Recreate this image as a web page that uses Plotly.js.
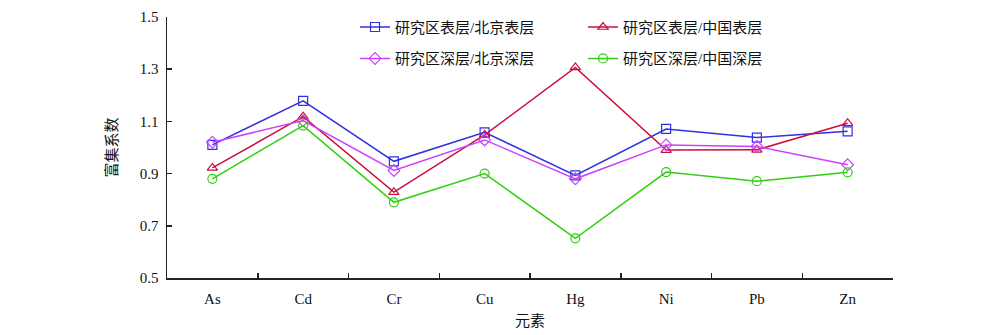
<!DOCTYPE html>
<html>
<head>
<meta charset="utf-8">
<script src="https://cdn.plot.ly/plotly-3.0.1.min.js"></script>
<style>html,body{margin:0;padding:0;background:#fff;}#chart{width:1000px;height:335px;}</style>
</head>
<body>
<div id="chart"></div>
<script>
const elements = ["As","Cd","Cr","Cu","Hg","Ni","Pb","Zn"];
const surfBeijing = [1.010,1.179,0.947,1.058,0.893,1.071,1.038,1.062];
const surfChina   = [0.922,1.118,0.829,1.048,1.307,0.990,0.991,1.093];
const deepBeijing = [1.020,1.103,0.912,1.029,0.880,1.010,1.004,0.934];
const deepChina   = [0.880,1.084,0.790,0.900,0.652,0.906,0.871,0.905];
const seriesNames = ["研究区表层/北京表层","研究区表层/中国表层","研究区深层/北京深层","研究区深层/中国深层"];

const cjk = '"Liberation Serif","Noto Sans CJK SC",serif';
function tr(y, name, color, symbol, legend){
  return {x: elements, y: y, name: name, type:'scatter', mode:'lines+markers',
    line:{color:color, width:1.5},
    marker:{symbol:symbol, size:9, color:color, line:{width:1.2}},
    legend: legend};
}
const data = [
  tr(surfBeijing, seriesNames[0], '#3030e0', 'square-open', 'legend'),
  tr(surfChina, seriesNames[1], '#c8103c', 'triangle-up-open', 'legend'),
  tr(deepBeijing, seriesNames[2], '#cc40ff', 'diamond-open', 'legend2'),
  tr(deepChina, seriesNames[3], '#30d010', 'circle-open', 'legend2')
];
const legFont = {family: cjk, size: 15, color:'#111'};
const layout = {
  width:1000, height:335,
  margin:{l:167, r:107, t:16, b:57},
  paper_bgcolor:'#fff', plot_bgcolor:'#fff',
  font:{family:cjk, size:14, color:'#111'},
  showlegend:true,
  legend:{orientation:'h', x:0.259, y:1.02, xanchor:'left', yanchor:'top', xref:'paper', yref:'paper',
    font:legFont, bgcolor:'rgba(0,0,0,0)', entrywidth:183, itemwidth:30},
  legend2:{orientation:'h', x:0.259, y:0.90, xanchor:'left', yanchor:'top', xref:'paper', yref:'paper',
    font:legFont, bgcolor:'rgba(0,0,0,0)', entrywidth:183, itemwidth:30},
  xaxis:{type:'category', range:[-0.5,7.5], showline:true, linecolor:'#222', linewidth:1.5,
    ticks:'inside', ticklen:5, tickwidth:1.5, tickcolor:'#222', tickson:'boundaries',
    showgrid:false, zeroline:false, mirror:false, ticklabelstandoff:6,
    tickfont:{family:'"Liberation Serif",serif', size:15, color:'#111'},
    title:{text:'元素', font:{family:cjk, size:15, color:'#111'}, standoff:10}},
  yaxis:{range:[0.5,1.5], dtick:0.2, tick0:0.5, tickformat:'.1f', showline:true, linecolor:'#222', linewidth:1.5,
    ticks:'inside', ticklen:5, tickwidth:1.5, tickcolor:'#222', showgrid:false, zeroline:false,
    ticklabelstandoff:4,
    tickfont:{family:'"Liberation Serif",serif', size:15, color:'#111'},
    title:{text:'富集系数', font:{family:cjk, size:15, color:'#111'}, standoff:18}}
};
Plotly.newPlot('chart', data, layout, {displayModeBar:false, staticPlot:true});
</script>
</body>
</html>
